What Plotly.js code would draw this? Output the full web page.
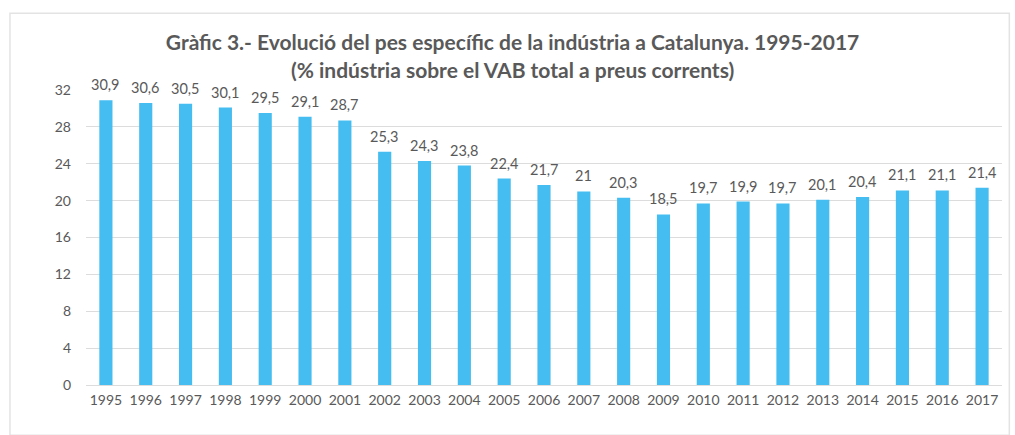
<!DOCTYPE html>
<html><head><meta charset="utf-8">
<script src="https://cdn.plot.ly/plotly-3.0.1.min.js"></script>
<style>html,body{margin:0;padding:0;background:#fff;}#chart{width:1015px;height:435px;}</style>
</head><body><div id="chart"></div>
<script>
const years = ['1995','1996','1997','1998','1999','2000','2001','2002','2003','2004','2005','2006','2007','2008','2009','2010','2011','2012','2013','2014','2015','2016','2017'];
const industryShare = [30.9,30.6,30.5,30.1,29.5,29.1,28.7,25.3,24.3,23.8,22.4,21.7,21,20.3,18.5,19.7,19.9,19.7,20.1,20.4,21.1,21.1,21.4];
const yTicks = [0,4,8,12,16,20,24,28,32];

const grey = '#595959';
const fontFam = 'Lato, "Open Sans", sans-serif';

const annotations = years.map((yr, i) => ({
  x: i, y: industryShare[i], xref: 'x', yref: 'y',
  text: String(industryShare[i]).replace('.', ','),
  showarrow: false, yanchor: 'bottom', yshift: 5,
  font: {family: fontFam, size: 14.5, color: grey}
}));

const trace = {
  type: 'bar', x: years, y: industryShare,
  marker: {color: '#45bdf0'}, width: 0.33,
  hoverinfo: 'x+y'
};

const layout = {
  width: 1015, height: 435,
  margin: {l: 86, r: 13, t: 90, b: 50},
  paper_bgcolor: '#fff', plot_bgcolor: '#fff',
  title: {
    text: '<b>Gràfic 3.- Evolució del pes específic de la indústria a Catalunya. 1995-2017</b><br><b>(% indústria sobre el VAB total a preus corrents)</b>',
    font: {family: fontFam, size: 21, color: grey},
    xref: 'container', x: 0.505, xanchor: 'center',
    yref: 'container', y: 0.884, yanchor: 'top'
  },
  xaxis: {
    type: 'category', range: [-0.5, 22.5], showgrid: false, zeroline: false, showline: false,
    ticks: '', tickfont: {family: fontFam, size: 14, color: grey},
    ticklabelstandoff: 5
  },
  yaxis: {
    range: [0, 32], tickvals: yTicks, ticks: '',
    gridcolor: '#dcdcdc', gridwidth: 1, zeroline: true, zerolinecolor: '#dcdcdc',
    showline: false, tickfont: {family: fontFam, size: 14, color: grey},
    ticklabelstandoff: 14
  },
  annotations: annotations,
  shapes: [{type: 'rect', xref: 'paper', yref: 'paper', x0: -0.083, x1: 1.008, y0: -0.17, y1: 1.26,
    line: {color: '#e3e3e3', width: 1.5}}],
  showlegend: false
};

Plotly.newPlot('chart', [trace], layout, {displayModeBar: false, staticPlot: true});
</script></body></html>
